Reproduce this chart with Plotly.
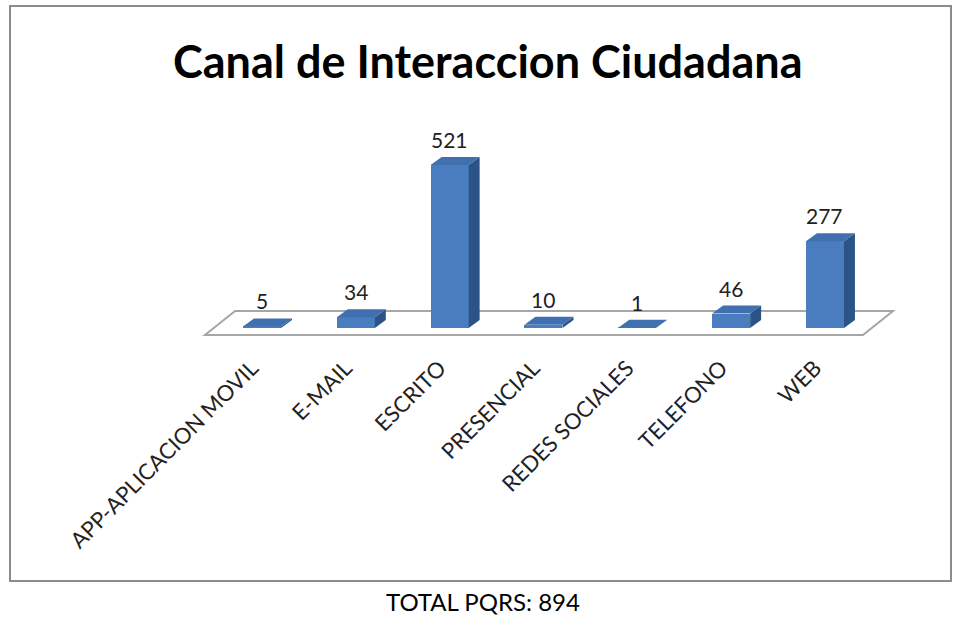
import plotly.graph_objects as go

# data
categories = ['APP-APLICACION MOVIL', 'E-MAIL', 'ESCRITO', 'PRESENCIAL',
              'REDES SOCIALES', 'TELEFONO', 'WEB']
values = [5, 34, 521, 10, 1, 46, 277]
title = 'Canal de Interaccion Ciudadana'
footer = 'TOTAL PQRS: 894'

FRONT = '#4a7dc0'
SIDE = '#2c5387'
TOP = '#4170b0'
FONT = 'Lato'

W, H = 961, 617

half = 0.2025          # half bar width (x units)
dx, dy = 0.117, 25.6   # 3d depth offset (x units, y units)

x_pos = list(range(len(categories)))
n = len(categories)

# plot area geometry (pixels)
px_per_x = 93.83
x0 = -262 / px_per_x
x1 = x0 + W / px_per_x
top_px, bot_px = 100, 340
zero_px = 328
px_per_y = 0.3129
y_bot = (zero_px - bot_px) / px_per_y
y_top = (zero_px - top_px) / px_per_y


def px(p):
    return p / W


def py(p):
    return (bot_px - p) / (bot_px - top_px)


fig = go.Figure()

# front faces
fig.add_trace(go.Bar(x=x_pos, y=values, width=2 * half, marker_color=FRONT,
                     marker_line_width=0, showlegend=False, hoverinfo='x+y'))

# side and top faces
for c, v in zip(x_pos, values):
    fig.add_trace(go.Scatter(
        x=[c + half, c + half + dx, c + half + dx, c + half, c + half],
        y=[0, dy, v + dy, v, 0],
        mode='lines', fill='toself', fillcolor=SIDE, line=dict(width=0, color=SIDE),
        hoverinfo='skip', showlegend=False))
    fig.add_trace(go.Scatter(
        x=[c - half, c - half + dx, c + half + dx, c + half, c - half],
        y=[v, v + dy, v + dy, v, v],
        mode='lines', fill='toself', fillcolor=TOP, line=dict(width=0, color=TOP),
        hoverinfo='skip', showlegend=False))
    fig.add_annotation(x=c, y=v + dy, text=str(v), showarrow=False,
                       yanchor='bottom', yshift=3,
                       font=dict(family=FONT, size=21, color='#222222'))

# floor
fl, fr = -0.607, n - 1 + 0.405
fb, ff = 54.3, -22.4
shift = 0.32
fig.add_shape(type='path', xref='x', yref='y', layer='below',
              path=f'M {fl},{ff} L {fr},{ff} L {fr + shift},{fb} L {fl + shift},{fb} Z',
              line=dict(color='#a6a6a6', width=2), fillcolor='white')

# outer frame
fig.add_shape(type='rect', xref='paper', yref='paper',
              x0=px(10), x1=px(951), y0=py(581), y1=py(6),
              line=dict(color='#8c8c8c', width=2), fillcolor='rgba(0,0,0,0)',
              layer='below')

fig.add_annotation(xref='paper', yref='paper', x=px(488), y=py(61),
                   xanchor='center', yanchor='middle',
                   text='<b>' + title + '</b>', showarrow=False,
                   font=dict(family=FONT, size=45, color='black'))
fig.add_annotation(xref='paper', yref='paper', x=px(483), y=py(601),
                   xanchor='center', yanchor='middle',
                   text=footer, showarrow=False,
                   font=dict(family=FONT, size=24, color='black'))

fig.update_layout(
    width=W, height=H,
    margin=dict(l=0, r=0, t=top_px, b=H - bot_px, pad=0),
    plot_bgcolor='rgba(0,0,0,0)', paper_bgcolor='white',
    xaxis=dict(range=[x0, x1], tickmode='array', tickvals=x_pos, ticktext=categories,
               tickangle=-45, showgrid=False, zeroline=False, showline=False,
               ticks='', tickfont=dict(family=FONT, size=22, color='#222222'),
               ticklabelstandoff=10, ticklabelshift=-10,
               fixedrange=True),
    yaxis=dict(range=[y_bot, y_top], visible=False, fixedrange=True),
    bargap=0,
)

# drop the default body margin so the figure fills the window exactly
fig.write_html('out.html', config={'displayModeBar': False},
               post_script="document.body.style.margin = '0';")
